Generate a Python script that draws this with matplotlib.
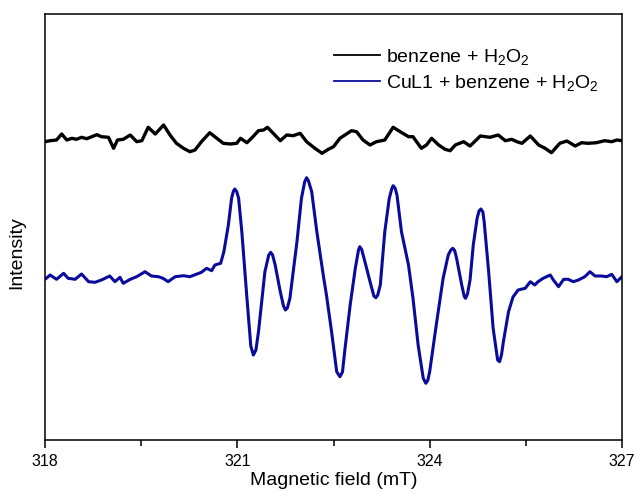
"""EPR spectra: benzene + H2O2 with and without CuL1 (DMPO spin trap)."""
import matplotlib
matplotlib.use("Agg")
import matplotlib.pyplot as plt
from matplotlib.lines import Line2D
from matplotlib.ticker import MultipleLocator

plt.rcParams["font.family"] = ["Liberation Sans", "DejaVu Sans"]
plt.rcParams["mathtext.fontset"] = "custom"
plt.rcParams["mathtext.rm"] = "Liberation Sans"
plt.rcParams["mathtext.it"] = "Liberation Sans:italic"

# benzene + H2O2 (no catalyst), arbitrary intensity units
field_ref = [318.00, 318.08, 318.18, 318.26, 318.34, 318.42, 318.49, 318.57, 318.65, 318.73,
             318.81, 318.88, 318.99, 319.07, 319.13, 319.22, 319.33, 319.43, 319.51, 319.61,
             319.72, 319.85, 319.95, 320.05, 320.16, 320.26, 320.34, 320.44, 320.57, 320.68,
             320.78, 320.89, 320.99, 321.05, 321.15, 321.22, 321.33, 321.41, 321.47, 321.56,
             321.67, 321.77, 321.87, 321.98, 322.08, 322.21, 322.32, 322.42, 322.50, 322.60,
             322.78, 322.86, 322.96, 323.07, 323.17, 323.30, 323.43, 323.54, 323.67, 323.74,
             323.87, 323.95, 324.03, 324.14, 324.24, 324.32, 324.40, 324.53, 324.63, 324.79,
             324.94, 325.07, 325.18, 325.28, 325.36, 325.44, 325.57, 325.70, 325.80, 325.90,
             326.03, 326.14, 326.27, 326.37, 326.47, 326.60, 326.73, 326.84, 326.92, 327.00]
int_ref = [298.3, 299.3, 300.0, 306.0, 300.0, 301.7, 300.7, 302.7, 301.3, 303.3,
           305.3, 303.3, 302.7, 291.7, 300.0, 300.7, 305.0, 298.3, 299.3, 312.7,
           306.0, 315.0, 305.0, 296.7, 291.7, 288.3, 290.0, 298.3, 307.3, 301.7,
           296.7, 296.0, 296.7, 301.7, 297.3, 301.7, 309.3, 310.0, 312.7, 306.7,
           299.3, 305.0, 304.3, 306.7, 298.3, 291.7, 286.7, 290.7, 293.3, 301.7,
           309.3, 308.3, 300.0, 295.0, 298.3, 300.0, 312.7, 308.3, 303.3, 303.3,
           291.7, 295.0, 301.7, 295.0, 290.7, 289.3, 295.0, 298.3, 294.0, 304.0,
           302.7, 305.0, 299.3, 300.7, 298.3, 296.7, 304.0, 295.0, 291.7, 287.3,
           296.7, 299.0, 294.0, 297.3, 296.7, 297.3, 299.3, 298.3, 300.0, 299.3]

# CuL1 + benzene + H2O2
field_cu = [318.02, 318.08, 318.18, 318.29, 318.36, 318.47, 318.57, 318.68, 318.78, 318.88,
            319.01, 319.09, 319.17, 319.22, 319.33, 319.43, 319.56, 319.66, 319.77, 319.84,
            319.92, 320.03, 320.16, 320.26, 320.37, 320.44, 320.52, 320.60, 320.65, 320.74,
            320.79, 320.86, 320.91, 320.94, 320.96, 320.99, 321.02, 321.07, 321.15, 321.21,
            321.25, 321.29, 321.33, 321.43, 321.49, 321.52, 321.55, 321.59, 321.67, 321.72,
            321.75, 321.78, 321.82, 321.93, 322.00, 322.05, 322.08, 322.11, 322.16, 322.24,
            322.34, 322.39, 322.47, 322.55, 322.60, 322.64, 322.68, 322.76, 322.84, 322.89,
            322.91, 322.94, 322.99, 323.07, 323.13, 323.16, 323.19, 323.23, 323.30, 323.37,
            323.41, 323.43, 323.46, 323.49, 323.56, 323.67, 323.74, 323.82, 323.90, 323.94,
            323.97, 324.00, 324.11, 324.21, 324.29, 324.33, 324.36, 324.39, 324.42, 324.50,
            324.54, 324.56, 324.59, 324.63, 324.68, 324.74, 324.77, 324.80, 324.83, 324.85,
            324.92, 324.99, 325.06, 325.09, 325.12, 325.15, 325.23, 325.30, 325.38, 325.49,
            325.57, 325.64, 325.69, 325.77, 325.88, 325.93, 326.01, 326.09, 326.16, 326.24,
            326.32, 326.42, 326.50, 326.58, 326.68, 326.76, 326.84, 326.92, 327.00]
int_cu = [161.7, 165.0, 160.7, 166.7, 161.7, 160.7, 166.0, 158.3, 157.7, 160.0,
          164.0, 158.3, 162.7, 156.7, 160.7, 163.3, 168.3, 164.0, 163.3, 161.7,
          158.3, 163.3, 164.3, 163.3, 166.0, 167.7, 171.7, 169.3, 175.0, 176.7,
          188.3, 215.0, 241.7, 249.0, 251.0, 248.5, 241.7, 208.3, 141.7, 94.0,
          85.0, 90.0, 108.3, 168.3, 185.0, 187.7, 185.0, 175.0, 148.3, 134.0,
          130.0, 132.0, 141.7, 198.3, 241.7, 258.0, 262.3, 259.0, 248.3, 208.3,
          165.0, 145.0, 108.3, 68.3, 63.3, 68.0, 91.7, 135.0, 171.7, 190.0,
          193.3, 190.5, 178.3, 158.3, 144.0, 142.3, 145.0, 155.0, 208.3, 241.7,
          251.5, 254.3, 252.0, 245.0, 208.3, 175.0, 141.7, 95.0, 61.7, 56.7,
          59.5, 68.3, 118.3, 161.7, 185.0, 190.0, 191.7, 189.5, 181.7, 155.0,
          143.5, 141.7, 146.0, 160.0, 195.0, 221.7, 229.0, 231.0, 228.0, 218.3,
          168.3, 111.7, 80.0, 78.3, 85.0, 98.3, 128.3, 143.0, 150.0, 151.7,
          158.3, 155.0, 158.3, 161.7, 165.0, 160.0, 153.3, 160.7, 160.7, 158.3,
          160.0, 163.3, 168.3, 164.0, 164.0, 163.3, 165.7, 158.3, 163.3]

labels = ["benzene + H$_2$O$_2$", "CuL1 + benzene + H$_2$O$_2$"]
colours = ["#000000", "#0a0a9c"]

fig = plt.figure(figsize=(6.36, 4.91), dpi=100)
ax = fig.add_axes([45 / 636, 51 / 491, 577 / 636, 426 / 491])

ax.plot(field_ref, int_ref, color=colours[0], linewidth=2.4)
ax.plot(field_cu, int_cu, color=colours[1], linewidth=2.2)

ax.set_xlim(318, 327)
ax.set_ylim(0, 426)
ax.xaxis.set_major_locator(MultipleLocator(3))
ax.xaxis.set_minor_locator(MultipleLocator(1.5))
ax.tick_params(axis="x", which="major", direction="out", length=6, width=1.1,
               labelsize=11.5, pad=4, top=False)
ax.tick_params(axis="x", which="minor", direction="out", length=4, width=1.1, top=False)
ax.set_yticks([])
for spine in ax.spines.values():
    spine.set_linewidth(1.1)

ax.set_xlabel("Magnetic field (mT)", fontsize=14, labelpad=2)
ax.set_ylabel("Intensity", fontsize=14)
ax.yaxis.set_label_coords(-0.035, 0.44)

handles = [Line2D([], [], color=c, linewidth=1.3) for c in colours]
ax.legend(handles, labels, loc="upper left", bbox_to_anchor=(0.50, 0.922),
          frameon=False, fontsize=14, handlelength=2.4, handletextpad=0.3,
          borderpad=0, borderaxespad=0, labelspacing=0.3)

fig.savefig("out.png", dpi=100)
